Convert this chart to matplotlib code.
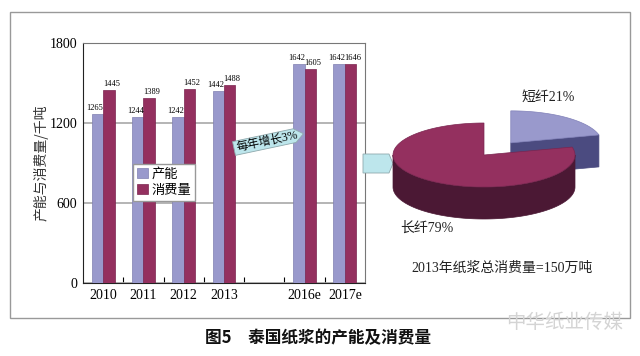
import numpy as np
import matplotlib
matplotlib.use("Agg")
import matplotlib.pyplot as plt
from matplotlib.patches import Polygon, Rectangle

# bar chart data (2014/2015 left blank as in the source figure)
years = ["2010", "2011", "2012", "2013", "", "2016e", "2017e"]
capacity = [1265, 1244, 1242, 1442, np.nan, 1642, 1642]
consumption = [1445, 1389, 1452, 1488, np.nan, 1605, 1646]
series_names = ["产能", "消费量"]
y_ticks = [0, 600, 1200, 1800]
y_label = "产能与消费量/千吨"
growth_note = "每年增长3%"

# pie data (2013 pulp consumption split)
pie_names = ["长纤", "短纤"]
pie_shares = [79, 21]
pie_note = "2013年纸浆总消费量=150万吨"

title = "图5　泰国纸浆的产能及消费量"
watermark = "中华纸业传媒"

BLUE = "#9999cc"
RED = "#94305f"
BLUE_SIDE = "#4b4b80"
RED_SIDE = "#4b1834"
ARROW = "#bde6ec"
CJK = ["Noto Sans CJK SC", "DejaVu Sans"]
MIXED = ["Liberation Serif", "Noto Sans CJK SC"]

plt.rcParams["font.family"] = MIXED

W, H = 640, 356
fig = plt.figure(figsize=(W / 100, H / 100), dpi=100)


def fig_box(x0, y0, x1, y1):
    return [x0 / W, 1 - y1 / H, (x1 - x0) / W, (y1 - y0) / H]


# ---- bar chart ----
ax = fig.add_axes(fig_box(83, 43, 365, 283))
x = np.arange(len(years))
bw = 0.285
b1 = ax.bar(x - bw / 2, capacity, bw, color=BLUE, edgecolor="#7f7fb0", linewidth=0.5,
            label=series_names[0], zorder=3)
b2 = ax.bar(x + bw / 2, consumption, bw, color=RED, edgecolor="#7a2550", linewidth=0.5,
            label=series_names[1], zorder=3)
for bars, vals, dx in [(b1, capacity, -2.5), (b2, consumption, 2.5)]:
    for rect, v in zip(bars, vals):
        if np.isnan(v):
            continue
        ax.annotate(f"{v:.0f}", (rect.get_x() + rect.get_width() / 2, v),
                    xytext=(dx, 2), textcoords="offset pixels",
                    ha="center", va="bottom", fontsize=6)

ax.set_xlim(-0.5, len(years) - 0.5)
ax.set_ylim(0, 1800)
ax.set_yticks(y_ticks)
ax.set_xticks(x)
ax.set_xticklabels(years)
ax.set_xticks(x[:-1] + 0.5, minor=True)
ax.tick_params(axis="x", which="major", length=0, pad=4, labelsize=10)
ax.tick_params(axis="x", which="minor", direction="in", length=4, width=0.8)
ax.tick_params(axis="y", length=0, pad=4, labelsize=10)
ax.yaxis.grid(True, color="#a8a8a8", linewidth=1.2, zorder=0)
ax.set_axisbelow(True)
for side in ["left", "bottom"]:
    ax.spines[side].set_color("#222222")
for side in ["top", "right"]:
    ax.spines[side].set_color("#777777")
ax.set_ylabel(y_label, family=CJK, fontsize=10, color="#333333", labelpad=1)

fig.legend(handles=[b1, b2], labels=series_names, loc="upper left",
           bbox_to_anchor=(133 / W, 1 - 164 / H), borderaxespad=0,
           prop={"family": CJK, "size": 9.5}, fancybox=False, edgecolor="#999999",
           handlelength=0.8, handleheight=0.8, handletextpad=0.3,
           borderpad=0.3, labelspacing=0.2, framealpha=1)

# ---- overlay in pixel coordinates ----
ov = fig.add_axes([0, 0, 1, 1], zorder=4)
ov.set_xlim(0, W)
ov.set_ylim(H, 0)
ov.axis("off")
ov.patch.set_alpha(0)

ov.add_patch(Rectangle((10, 12), 620, 306, fill=False, edgecolor="#999999", linewidth=1))


def pointer(x0, y0, length, height, tip, angle):
    a = np.radians(angle)
    along = np.array([np.cos(a), -np.sin(a)])
    up = np.array([-np.sin(a), -np.cos(a)])
    local = [(0, -height / 2), (length, -height / 2), (length + tip, 0),
             (length, height / 2), (0, height / 2)]
    pts = [np.array([x0, y0]) + s * along + t * up for s, t in local]
    return Polygon(pts, closed=True, facecolor=ARROW, edgecolor="#8fa9ad", linewidth=0.6)


ov.add_patch(pointer(234, 148.5, 62, 14, 9, 12))
ov.text(267, 141.5, growth_note, rotation=12, ha="center", va="center",
        fontsize=8.5, rotation_mode="anchor")
ov.add_patch(pointer(363, 163.5, 26, 19, 4, 0))

# ---- 3D-looking pie ----
CX, CY, RX, RY, DEPTH = 484, 155, 91, 32, 32
EXPLODE = 0.48


def rim(cx, cy, a0, a1, n=120):
    th = np.radians(np.linspace(a0, a1, n))
    return np.column_stack([cx + RX * np.cos(th), cy - RY * np.sin(th)])


split = 90 - 360 * pie_shares[1] / 100
long_start, long_end = 90, 360 + split
short_start, short_end = split, 90

# short fibre wedge, pulled out along its bisector
mid = np.radians((short_start + short_end) / 2)
sx = CX + EXPLODE * RX * np.cos(mid)
sy = CY - EXPLODE * RY * np.sin(mid)
edge_pt = rim(sx, sy, split, split, 1)[0]
ov.add_patch(Polygon([(sx, sy), edge_pt, edge_pt + [0, DEPTH], (sx, sy + DEPTH)],
                     facecolor=BLUE_SIDE, edgecolor=BLUE_SIDE, linewidth=0.5))
top = np.vstack([[sx, sy], rim(sx, sy, short_start, short_end)])
ov.add_patch(Polygon(top, facecolor=BLUE, edgecolor="#8080b8", linewidth=0.5))

# long fibre wedge
front = rim(CX, CY, 180, 360)
side = np.vstack([front, front[::-1] + [0, DEPTH]])
ov.add_patch(Polygon(side, facecolor=RED_SIDE, edgecolor=RED_SIDE, linewidth=0.5))
top = np.vstack([[CX, CY], rim(CX, CY, long_start, long_end)])
ov.add_patch(Polygon(top, facecolor=RED, edgecolor="#7a2550", linewidth=0.5))

ov.text(548, 97, f"{pie_names[1]}{pie_shares[1]}%", ha="center", va="center",
        fontsize=10, color="#222222")
ov.text(427, 228, f"{pie_names[0]}{pie_shares[0]}%", ha="center", va="center",
        fontsize=10, color="#222222")
ov.text(502, 268, pie_note, ha="center", va="center",
        fontsize=10, color="#222222")

# ---- caption and watermark ----
ov.text(318, 338, title, ha="center", va="center", family=CJK,
        fontsize=12, fontweight="bold", color="#111111")
ov.text(565, 322, watermark, ha="center", va="center", family=CJK,
        fontsize=14, color="#d4d4d4")

fig.savefig("out.png", dpi=100)
